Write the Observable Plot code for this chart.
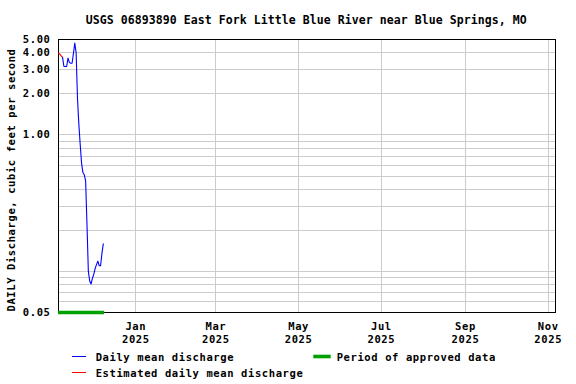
<!DOCTYPE html>
<html><head><meta charset="utf-8">
<script src="https://cdn.jsdelivr.net/npm/d3@7"></script>
<script src="https://cdn.jsdelivr.net/npm/@observablehq/plot@0.6"></script>
<style>
body{margin:0;background:#fff;font-family:"DejaVu Sans Mono",monospace;font-weight:bold;color:#000;}
#title{height:30px;width:576px;box-sizing:border-box;padding:14px 21.5px 0 58px;text-align:center;font-size:11.5px;line-height:12px;letter-spacing:0.08px;white-space:nowrap;}
#chart svg, #legend svg{display:block;}
</style></head><body>
<div id="title">USGS 06893890 East Fork Little Blue River near Blue Springs, MO</div>
<div id="chart"></div>
<div id="legend"></div>
<script>
// ---- data ----
const firstDay = [2024, 10, 5];            // 2024-11-05 (UTC, month 0-based)
const estimatedValues = [3.97, 3.90, 3.80, 3.70];   // days 0..3
const dailyStartDay = 3;
const dailyValues = [3.70, 3.17, 3.17, 3.17, 3.65, 3.40, 3.35, 3.35, 3.95, 4.70,
  4.00, 1.85, 1.20, 0.85, 0.62, 0.53, 0.51, 0.46, 0.22, 0.10,
  0.085, 0.081, 0.089, 0.095, 0.105, 0.112, 0.119, 0.110, 0.110, 0.135, 0.159];
const approvedStart = "2024-11-05";
const approvedEnd = "2024-12-09";
const xDomain = ["2024-11-05", "2025-11-06"];
const xTickDates = ["2025-01-01", "2025-03-01", "2025-05-01", "2025-07-01", "2025-09-01", "2025-11-01"];
const xTickLabels = ["Jan\n2025", "Mar\n2025", "May\n2025", "Jul\n2025", "Sep\n2025", "Nov\n2025"];
const yTicks = [5, 4, 3, 2, 1, 0.05];
const yTickLabels = ["5.00", "4.00", "3.00", "2.00", "1.00", "0.05"];
const yGrid = [4, 3, 2, 1, 0.9, 0.8, 0.7, 0.6, 0.5, 0.4, 0.3, 0.2, 0.1, 0.09, 0.08, 0.07, 0.06];
const yDomain = [0.05, 5];
const titleY = "DAILY Discharge, cubic feet per second";

// ---- build tables ----
const dayDate = i => new Date(Date.UTC(firstDay[0], firstDay[1], firstDay[2] + i));
const estData = estimatedValues.map((v, i) => ({date: dayDate(i), value: v}));
const dailyData = dailyValues.map((v, i) => ({date: dayDate(dailyStartDay + i), value: v}));
const approved = [{y: yDomain[0], x1: new Date(approvedStart), x2: new Date(approvedEnd)}];
const xTicks = xTickDates.map(d => new Date(d));
const labelMap = new Map(xTicks.map((d, i) => [+d, xTickLabels[i]]));
const yTickData = yTicks.map((v, i) => ({value: v, label: yTickLabels[i]}));

const font = {fontFamily: "'DejaVu Sans Mono', monospace", fontWeight: "bold", fontSize: "10.5px", letterSpacing: "0.6px", background: "#fff", color: "#000", overflow: "visible"};

const chart = Plot.plot({
  width: 576, height: 317,
  marginTop: 9, marginLeft: 58, marginRight: 21.5, marginBottom: 35,
  style: font,
  x: {type: "utc", domain: xDomain.map(d => new Date(d))},
  y: {type: "log", domain: yDomain, axis: null},
  marks: [
    Plot.ruleY(yGrid, {stroke: "#cccccc", strokeWidth: 1, shapeRendering: "crispEdges"}),
    Plot.ruleX(xTicks, {stroke: "#cccccc", strokeWidth: 1, shapeRendering: "crispEdges"}),
    Plot.frame({stroke: "#000", strokeWidth: 1, shapeRendering: "crispEdges"}),
    Plot.axisX(xTicks, {tickSize: 0, tickPadding: 9, tickFormat: d => labelMap.get(+d), lineHeight: 1.19, label: null}),
    Plot.text(yTickData, {y: "value", text: "label", frameAnchor: "left", textAnchor: "end", dx: -8}),
    Plot.text([titleY], {frameAnchor: "left", rotate: -90, dx: -47, dy: 4, textAnchor: "middle"}),
    Plot.ruleY(approved, {y: "y", x1: "x1", x2: "x2", stroke: "#00a000", strokeWidth: 3.5}),
    Plot.line(estData, {x: "date", y: "value", stroke: "#ff0000", strokeWidth: 1.1}),
    Plot.line(dailyData, {x: "date", y: "value", stroke: "#0000ff", strokeWidth: 1.1})
  ]
});
document.getElementById("chart").appendChild(chart);

// ---- legend below the chart ----
const legendItems = [
  {label: "Daily mean discharge", color: "#0000ff", kind: "line", x: 72, y: 9.5, tx: 95.7, ty: 14},
  {label: "Estimated daily mean discharge", color: "#ff0000", kind: "line", x: 72, y: 25.5, tx: 95.7, ty: 29.7},
  {label: "Period of approved data", color: "#00a000", kind: "bar", x: 313.3, y: 9.5, tx: 336.7, ty: 14}
];
const ns = "http://www.w3.org/2000/svg";
const lg = document.createElementNS(ns, "svg");
lg.setAttribute("width", 576); lg.setAttribute("height", 37);
lg.setAttribute("style", "font-family:'DejaVu Sans Mono',monospace;font-weight:bold;font-size:10.5px;letter-spacing:0.6px");
for (const it of legendItems) {
  const l = document.createElementNS(ns, "line");
  const w = it.kind === "bar" ? 17.4 : 14;
  l.setAttribute("x1", it.x); l.setAttribute("x2", it.x + w);
  l.setAttribute("y1", it.y); l.setAttribute("y2", it.y);
  l.setAttribute("stroke", it.color);
  l.setAttribute("stroke-width", it.kind === "bar" ? 3.6 : 1);
  lg.appendChild(l);
  const t = document.createElementNS(ns, "text");
  t.setAttribute("x", it.tx); t.setAttribute("y", it.ty);
  t.textContent = it.label;
  lg.appendChild(t);
}
document.getElementById("legend").appendChild(lg);
</script>
</body></html>
